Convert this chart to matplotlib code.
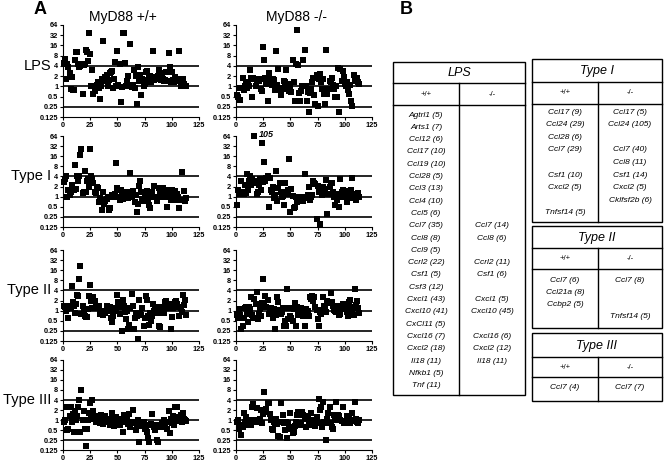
import matplotlib.pyplot as plt
from matplotlib.patches import Rectangle
from matplotlib.ticker import NullLocator
import matplotlib.transforms as mtransforms
import numpy as np

plt.rcParams['font.family'] = ['Liberation Sans', 'DejaVu Sans']

# fold change per gene (gene index 1..113)
lps_wt = [5, 6.5, 1.6, 4.5, 3.7, 2.5, 0.85, 1.9, 0.8, 0.8,
          5.8, 10, 10, 4.6, 3.7, 4, 4.6, 0.6, 4.2, 4.5,
          12, 10, 5.5, 36, 9, 1.05, 3, 0.6, 0.75, 1.0,
          1.1, 1.3, 0.9, 0.43, 1.0, 1.7, 22, 1.4, 1.9, 2.1,
          1.0, 1.5, 2.5, 2.6, 2.8, 0.9, 1.6, 5.2, 1.0, 11,
          1.1, 4.6, 0.35, 0.95, 38, 37, 5, 1.0, 1.4, 2.0,
          1.0, 18, 0.95, 1.1, 3.0, 0.9, 2.0, 0.3, 3.7, 1.4,
          2.1, 0.55, 1.7, 1.0, 1.2, 2.6, 2.8, 1.5, 1.8, 2.0,
          1.3, 1.9, 11, 1.5, 1.8, 1.6, 2.0, 3.0, 1.6, 1.5,
          2.5, 1.7, 1.4, 1.5, 2.7, 1.4, 9.5, 3.7, 1.3, 2.6,
          1.5, 1.3, 1.9, 1.4, 1.7, 1.5, 11, 1.0, 1.05, 1.6,
          1.2, 1.0, 1.0]
lps_ko = [0.55, 0.5, 0.9, 0.4, 0.9, 1.8, 0.8, 1.05, 1.2, 0.9,
          1.3, 1.0, 3.0, 1.8, 0.48, 1.8, 1.7, 1.0, 1.5, 1.5,
          1.4, 1.7, 0.85, 0.75, 14, 6, 1.8, 1.2, 0.38, 2.5,
          1.5, 1.7, 1.1, 1.6, 1.5, 0.8, 11, 1.1, 3.3, 0.8,
          0.55, 0.9, 0.85, 1.4, 1.3, 3.0, 0.85, 1.2, 0.75, 1.0,
          0.7, 5.8, 1.3, 0.38, 4.6, 45, 4.2, 0.65, 0.38, 0.75,
          1.0, 5.8, 12, 1.05, 0.38, 0.7, 0.17, 0.65, 0.85, 1.3,
          1.8, 0.55, 0.3, 2.1, 0.27, 1.6, 2.3, 1.3, 0.85, 1.6,
          0.6, 0.3, 11.5, 0.6, 0.85, 1.4, 1.3, 1.8, 1.1, 0.85,
          0.5, 1.0, 0.48, 3.5, 0.17, 3.3, 1.4, 2.8, 1.9, 1.2,
          1.0, 1.3, 0.8, 0.6, 1.1, 0.38, 0.27, 2.1, 1.6, 1.4,
          1.8, 1.3, 1.2]
t1_wt = [2.7, 3.4, 4.0, 1.0, 1.6, 1.1, 1.4, 2.2, 1.7, 1.6,
         8.5, 1.7, 4.2, 3.0, 4.0, 17, 27, 1.25, 1.4, 6.0,
         1.4, 3.0, 3.4, 2.0, 27, 4.2, 3.4, 2.6, 1.4, 1.3,
         1.9, 1.8, 0.7, 0.9, 0.8, 0.4, 1.4, 0.6, 0.75, 0.85,
         1.0, 0.4, 0.45, 1.0, 1.1, 1.05, 0.95, 1.2, 10, 1.8,
         0.95, 0.8, 1.6, 1.1, 0.85, 1.2, 1.0, 1.3, 1.4, 0.9,
         1.2, 5.0, 0.95, 1.5, 1.1, 0.7, 1.1, 0.35, 0.6, 2.1,
         3.0, 1.4, 0.85, 0.75, 1.1, 1.1, 1.5, 0.85, 0.55, 0.45,
         1.1, 1.4, 0.95, 2.1, 1.0, 0.75, 0.95, 1.8, 1.4, 1.1,
         0.95, 1.8, 1.4, 0.95, 1.6, 0.5, 1.4, 1.0, 0.8, 1.6,
         1.1, 0.9, 1.5, 0.8, 1.2, 1.0, 0.45, 0.8, 5.3, 0.8,
         1.5, 0.75, 0.9]
t1_ko = [0.55, 1.6, 1.4, 1.2, 3.0, 1.4, 1.2, 2.2, 1.3, 4.8,
         1.6, 3.0, 4.0, 2.2, 3.4, 2.5, 105, 3.0, 1.2, 1.4,
         2.2, 3.4, 1.6, 40, 2.8, 11, 3.0, 3.6, 4.2, 0.5,
         3.6, 1.6, 1.4, 1.9, 0.9, 1.1, 6.0, 0.75, 1.8, 2.5,
         1.4, 0.95, 1.05, 0.55, 2.5, 1.4, 1.2, 1.6, 13, 0.35,
         1.7, 1.05, 0.45, 0.5, 1.0, 0.7, 0.8, 1.0, 1.0, 0.9,
         0.85, 0.75, 4.8, 1.0, 0.9, 1.1, 2.0, 0.8, 0.95, 1.1,
         3.0, 2.6, 2.4, 0.22, 2.1, 1.4, 0.15, 1.6, 1.1, 2.0,
         1.2, 1.7, 3.2, 0.3, 1.2, 2.0, 2.5, 2.6, 1.4, 1.0,
         0.55, 1.2, 0.8, 0.95, 0.5, 3.4, 1.4, 1.6, 0.95, 1.3,
         1.0, 0.7, 1.5, 1.1, 0.9, 1.6, 3.5, 1.2, 1.0, 0.8,
         1.1, 1.3, 1.0]
t2_wt = [1.4, 1.3, 1.0, 1.1, 0.6, 1.4, 1.2, 5.5, 1.8, 1.4,
         0.85, 1.6, 3.0, 2.8, 9.0, 21, 0.8, 1.4, 1.0, 0.7,
         0.65, 0.65, 1.1, 2.8, 5.8, 1.9, 1.2, 2.6, 2.0, 1.4,
         1.3, 1.2, 1.4, 0.8, 0.95, 0.9, 0.75, 1.0, 0.85, 1.4,
         1.1, 0.95, 1.3, 0.6, 0.45, 0.7, 0.95, 1.2, 1.1, 3.0,
         1.8, 0.8, 1.3, 0.25, 2.1, 1.4, 0.9, 0.55, 1.0, 0.28,
         0.38, 1.2, 3.2, 1.4, 0.28, 0.6, 0.85, 0.7, 0.14, 2.1,
         0.85, 0.75, 1.2, 0.35, 0.6, 2.8, 2.1, 0.7, 0.38, 0.85,
         0.5, 0.7, 1.6, 1.0, 1.1, 0.85, 1.3, 0.36, 0.33, 0.85,
         1.0, 1.3, 0.85, 1.8, 2.0, 1.5, 1.2, 1.6, 0.28, 0.65,
         1.2, 1.4, 1.8, 2.0, 1.6, 1.3, 0.7, 1.2, 0.9, 3.0,
         1.5, 2.1, 0.75]
t2_ko = [0.75, 0.6, 1.1, 0.75, 0.28, 0.35, 0.6, 1.2, 1.3, 0.8,
         0.45, 1.3, 1.1, 2.5, 0.75, 0.6, 2.2, 1.6, 3.6, 0.55,
         0.8, 1.1, 0.7, 1.7, 9.0, 1.6, 2.8, 1.3, 2.1, 0.8,
         1.2, 1.2, 0.8, 0.6, 1.1, 0.28, 0.75, 2.5, 1.8, 1.05,
         0.8, 0.9, 1.2, 0.36, 0.5, 0.36, 4.5, 0.55, 1.2, 0.7,
         0.6, 0.5, 1.1, 1.7, 0.36, 1.3, 0.75, 1.0, 1.1, 1.2,
         0.9, 0.7, 0.36, 1.1, 0.75, 1.0, 0.7, 2.5, 2.2, 2.8,
         2.0, 2.6, 1.3, 1.05, 0.55, 0.36, 0.9, 0.8, 1.05, 2.5,
         1.4, 1.2, 0.9, 2.0, 1.8, 1.7, 3.3, 1.8, 1.4, 1.05,
         1.0, 0.9, 1.4, 1.05, 0.75, 0.8, 1.2, 1.6, 1.1, 1.5,
         1.2, 0.9, 0.7, 1.8, 2.1, 1.3, 1.0, 0.75, 4.5, 1.5,
         1.9, 1.2, 0.85]
t3_wt = [0.9, 1.0, 2.4, 0.5, 0.55, 1.3, 2.4, 0.9, 1.5, 0.45,
         1.9, 1.0, 1.3, 2.5, 4.0, 0.45, 8.0, 1.0, 1.9, 0.55,
         0.16, 0.55, 1.0, 1.6, 3.2, 1.1, 4.0, 1.9, 1.3, 0.9,
         1.1, 1.0, 1.2, 0.8, 1.4, 1.1, 0.75, 0.9, 1.3, 1.1,
         0.95, 1.0, 0.7, 0.9, 1.6, 1.1, 0.65, 0.8, 1.2, 1.0,
         0.9, 0.7, 1.1, 1.0, 0.45, 1.4, 1.3, 0.9, 1.0, 0.75,
         1.5, 0.6, 0.85, 2.0, 0.9, 0.8, 0.5, 0.75, 1.0, 0.22,
         0.65, 0.8, 0.7, 0.9, 0.55, 0.6, 0.45, 0.28, 0.22, 0.7,
         0.75, 1.5, 0.7, 0.6, 0.5, 0.25, 0.22, 0.7, 0.65, 0.6,
         0.8, 0.7, 1.0, 0.75, 0.9, 0.55, 1.9, 0.4, 1.1, 0.8,
         1.3, 0.7, 2.4, 0.95, 2.4, 1.2, 1.0, 1.4, 0.9, 1.6,
         1.1, 1.0, 0.95]
t3_ko = [0.9, 1.0, 0.55, 0.7, 0.35, 0.6, 1.6, 0.9, 1.2, 0.75,
         0.7, 0.85, 1.0, 0.7, 2.5, 3.0, 1.0, 0.85, 2.3, 1.0,
         0.9, 1.1, 2.0, 0.8, 1.5, 7.0, 1.8, 2.2, 3.3, 3.3,
         1.5, 1.0, 0.55, 0.5, 0.85, 0.8, 1.1, 0.75, 0.33, 0.3,
         3.3, 0.9, 1.4, 0.8, 0.5, 0.9, 0.28, 0.8, 0.6, 1.6,
         0.55, 0.4, 0.45, 0.65, 0.9, 1.4, 1.7, 1.6, 0.7, 0.8,
         1.7, 1.4, 1.1, 0.6, 1.2, 1.3, 0.7, 0.8, 1.6, 0.9,
         0.75, 1.0, 0.65, 1.2, 0.8, 4.3, 2.0, 2.4, 0.6, 3.5,
         0.9, 0.8, 0.25, 1.1, 1.6, 2.4, 0.8, 0.6, 0.55, 1.4,
         1.2, 3.5, 1.0, 1.4, 1.3, 1.0, 0.95, 2.5, 0.8, 0.85,
         0.9, 1.3, 1.0, 1.2, 0.8, 1.0, 1.6, 0.95, 3.5, 1.1,
         0.9, 0.8, 1.0]

row_names = ['LPS', 'Type I', 'Type II', 'Type III']
col_names = ['MyD88 +/+', 'MyD88 -/-']
panel_data = [[lps_wt, lps_ko], [t1_wt, t1_ko], [t2_wt, t2_ko], [t3_wt, t3_ko]]
cutoffs = [4, 1, 0.25]
yticks = [0.125, 0.25, 0.5, 1, 2, 4, 8, 16, 32, 64]
ytick_labels = ['0.125', '0.25', '0.5', '1', '2', '4', '8', '16', '32', '64']
xticks = [0, 25, 50, 75, 100, 125]

# table contents (panel B)
lps_tab_wt = ['Agtrl1 (5)', 'Arts1 (7)', 'Ccl12 (6)', 'Ccl17 (10)', 'Ccl19 (10)',
              'Ccl28 (5)', 'Ccl3 (13)', 'Ccl4 (10)', 'Ccl5 (6)', 'Ccl7 (35)',
              'Ccl8 (8)', 'Ccl9 (5)', 'Ccrl2 (22)', 'Csf1 (5)', 'Csf3 (12)',
              'Cxcl1 (43)', 'Cxcl10 (41)', 'CxCl11 (5)', 'Cxcl16 (7)', 'Cxcl2 (18)',
              'Il18 (11)', 'Nfkb1 (5)', 'Tnf (11)']
lps_tab_ko = ['', '', '', '', '', '', '', '', '', 'Ccl7 (14)',
              'Ccl8 (6)', '', 'Ccrl2 (11)', 'Csf1 (6)', '',
              'Cxcl1 (5)', 'Cxcl10 (45)', '', 'Cxcl16 (6)', 'Cxcl2 (12)',
              'Il18 (11)', '', '']
t1_tab_wt = ['Ccl17 (9)', 'Ccl24 (29)', 'Ccl28 (6)', 'Ccl7 (29)', '',
             'Csf1 (10)', 'Cxcl2 (5)', '', 'Tnfsf14 (5)']
t1_tab_ko = ['Ccl17 (5)', 'Ccl24 (105)', '', 'Ccl7 (40)', 'Ccl8 (11)',
             'Csf1 (14)', 'Cxcl2 (5)', 'Cklfsf2b (6)', '']
t2_tab_wt = ['Ccl7 (6)', 'Ccl21a (8)', 'Ccbp2 (5)', '']
t2_tab_ko = ['Ccl7 (8)', '', '', 'Tnfsf14 (5)']
t3_tab_wt = ['Ccl7 (4)']
t3_tab_ko = ['Ccl7 (7)']

W, H = 664, 461
fig = plt.figure(figsize=(W / 100, H / 100), dpi=100)


def px_axes(x0, y0, x1, y1):
    return fig.add_axes([x0 / W, 1 - y1 / H, (x1 - x0) / W, (y1 - y0) / H])


row_px = [(25, 117), (136, 227), (250, 341), (360, 450)]
col_px = [(63, 199), (236, 372)]
title_x = [123, 296]

for r, (top, bot) in enumerate(row_px):
    for c, (left, right) in enumerate(col_px):
        ax = px_axes(left, top, right, bot)
        vals = np.array(panel_data[r][c], dtype=float)
        x = np.arange(1, len(vals) + 1)
        for lvl in cutoffs:
            ax.axhline(lvl, color='black', lw=1.2, zorder=1)
        ax.scatter(x, np.minimum(vals, 64), marker='s', s=13, c='black',
                   linewidths=0, zorder=3, clip_on=False)
        ax.set_yscale('log', base=2)
        ax.set_ylim(0.125, 64)
        ax.set_xlim(0, 125)
        ax.set_yticks(yticks)
        ax.set_yticklabels(ytick_labels)
        ax.yaxis.set_minor_locator(NullLocator())
        ax.set_xticks(xticks)
        ax.tick_params(labelsize=5.3, length=2.5, width=0.8, pad=1)
        for lab in ax.get_xticklabels() + ax.get_yticklabels():
            lab.set_fontweight('bold')
        for s in ['top', 'right']:
            ax.spines[s].set_visible(False)
        for s in ['left', 'bottom']:
            ax.spines[s].set_linewidth(0.8)
        if r == 0:
            fig.text(title_x[c] / W, 1 - 17 / H, col_names[c], fontsize=10,
                     ha='center', va='center')
        if c == 0:
            tr = mtransforms.blended_transform_factory(fig.transFigure, ax.transData)
            ax.text(51 / W, 4, row_names[r], transform=tr, fontsize=10.5,
                    ha='right', va='center')
        big = np.where(vals > 64)[0]
        for i in big:
            ax.annotate('%d' % vals[i], (x[i], 64), xytext=(3, 1),
                        textcoords='offset points', fontsize=6.5,
                        fontweight='bold', style='italic', ha='left', va='center',
                        annotation_clip=False)

# overlay for panel letters and tables
tax = fig.add_axes([0, 0, 1, 1])
tax.set_xlim(0, W)
tax.set_ylim(H, 0)
tax.axis('off')
tax.text(40, 9, 'A', fontsize=13, fontweight='bold', ha='center', va='center')
tax.text(406, 10, 'B', fontsize=13, fontweight='bold', ha='center', va='center')


def draw_table(title, wt, ko, left, right, mid, top, t_bot, h_bot, bottom, row0, step):
    tax.add_patch(Rectangle((left, top), right - left, bottom - top, fill=False,
                            ec='black', lw=1.0))
    tax.plot([left, right], [t_bot, t_bot], color='black', lw=1.0)
    tax.plot([left, right], [h_bot, h_bot], color='black', lw=1.0)
    tax.plot([mid, mid], [t_bot, bottom], color='black', lw=1.0)
    tax.text((left + right) / 2, (top + t_bot) / 2 + 0.5, title, style='italic',
             fontsize=9, ha='center', va='center')
    tax.text((left + mid) / 2, (t_bot + h_bot) / 2, '+/+', fontsize=5.5,
             ha='center', va='center')
    tax.text((mid + right) / 2, (t_bot + h_bot) / 2, '-/-', fontsize=5.5,
             ha='center', va='center')
    for i, (a, b) in enumerate(zip(wt, ko)):
        y = row0 + i * step
        tax.text((left + mid) / 2, y, a, style='italic', fontsize=6,
                 ha='center', va='center')
        tax.text((mid + right) / 2, y, b, style='italic', fontsize=6,
                 ha='center', va='center')


draw_table('LPS', lps_tab_wt, lps_tab_ko, 393, 525, 459, 62, 83, 105, 395, 115, 12.3)
draw_table('Type I', t1_tab_wt, t1_tab_ko, 532, 662, 598, 59, 82, 104, 222, 112, 12.6)
draw_table('Type II', t2_tab_wt, t2_tab_ko, 532, 662, 598, 226, 248, 269, 328, 280, 12.3)
draw_table('Type III', t3_tab_wt, t3_tab_ko, 532, 662, 598, 333, 357, 377, 401, 387, 12.3)

fig.savefig('out.png', dpi=100)
